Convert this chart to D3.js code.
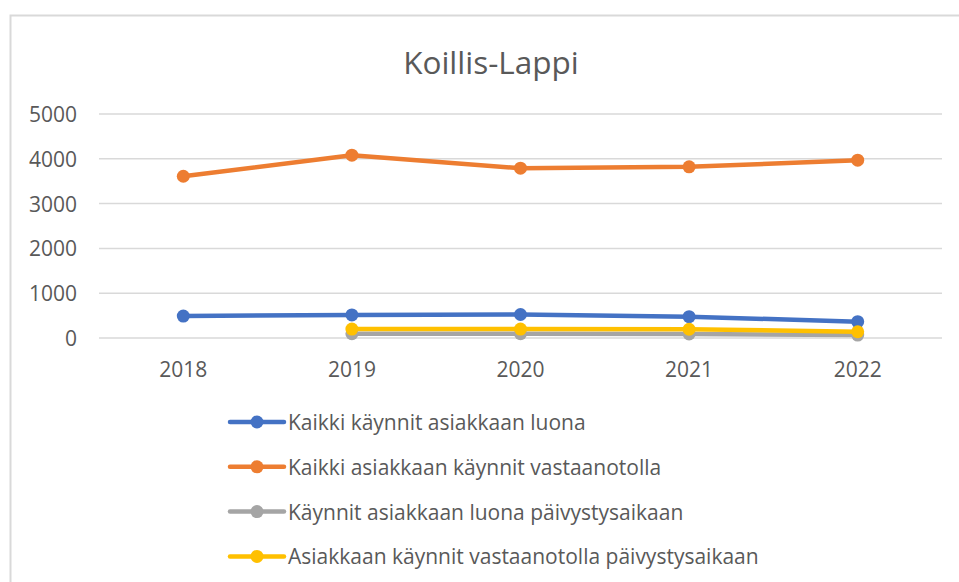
<!DOCTYPE html>
<html lang="fi">
<head>
    <meta charset="UTF-8">
    <title>Koillis-Lappi</title>
    <script src="https://d3js.org/d3.v7.min.js"></script>
    <style>
        body {
            margin: 0;
            background: #fff;
            font-family: 'Open Sans', sans-serif;
        }
        .tick-label {
            fill: #595959;
            font-size: 21px;
        }
        .legend-text {
            fill: #595959;
            font-size: 21px;
        }
    </style>
</head>
<body>
    <div id="chart"></div>

    <script>
        // data
        const years = ["2018", "2019", "2020", "2021", "2022"];
        const yTicks = [0, 1000, 2000, 3000, 4000, 5000];
        const seriesNames = [
            "Kaikki käynnit asiakkaan luona",
            "Kaikki asiakkaan käynnit vastaanotolla",
            "Käynnit asiakkaan luona päivystysaikaan",
            "Asiakkaan käynnit vastaanotolla päivystysaikaan"
        ];
        const seriesColors = ["#4472c4", "#ed7d31", "#a5a5a5", "#ffc000"];
        const kotiKaynnit = [490, 515, 525, 475, 365];
        const vastaanotto = [3610, 4080, 3790, 3820, 3970];
        const kotiPaivystys = [null, 95, 95, 90, 65];
        const vastaanottoPaivystys = [null, 200, 200, 195, 140];
        const seriesValues = [kotiKaynnit, vastaanotto, kotiPaivystys, vastaanottoPaivystys];

        const width = 959, height = 582;

        const svg = d3.select("#chart").append("svg")
            .attr("width", width)
            .attr("height", height);

        // chart frame
        svg.append("rect")
            .attr("x", 10.5).attr("y", 15.5)
            .attr("width", 960).attr("height", 600)
            .attr("fill", "#fff")
            .attr("stroke", "#d9d9d9")
            .attr("stroke-width", 2);

        svg.append("text")
            .attr("x", 491).attr("y", 61)
            .attr("text-anchor", "middle")
            .attr("dominant-baseline", "central")
            .attr("fill", "#595959")
            .style("font-size", "31.5px")
            .text("Koillis-Lappi");

        const x = d3.scaleBand().domain(years).range([99, 942]);
        const y = d3.scaleLinear().domain([0, 5000]).range([338, 114]);

        // gridlines
        svg.append("g").selectAll("line")
            .data(yTicks)
            .join("line")
            .attr("x1", 99).attr("x2", 942)
            .attr("y1", d => y(d)).attr("y2", d => y(d))
            .attr("stroke", "#d9d9d9")
            .attr("stroke-width", 1.5);

        svg.append("g").selectAll("text")
            .data(yTicks)
            .join("text")
            .attr("class", "tick-label")
            .attr("x", 77)
            .attr("y", d => y(d))
            .attr("text-anchor", "end")
            .attr("dominant-baseline", "central")
            .text(d => d);

        svg.append("g").selectAll("text")
            .data(years)
            .join("text")
            .attr("class", "tick-label")
            .attr("x", d => x(d) + x.bandwidth() / 2)
            .attr("y", 369)
            .attr("text-anchor", "middle")
            .attr("dominant-baseline", "central")
            .text(d => d);

        // lines
        const line = d3.line()
            .defined(d => d.v != null)
            .x(d => x(d.year) + x.bandwidth() / 2)
            .y(d => y(d.v));

        seriesValues.forEach((vals, i) => {
            const pts = years.map((yr, j) => ({ year: yr, v: vals[j] }));
            const g = svg.append("g");
            g.append("path")
                .datum(pts)
                .attr("d", line)
                .attr("fill", "none")
                .attr("stroke", seriesColors[i])
                .attr("stroke-width", 4.5)
                .attr("stroke-linejoin", "round")
                .attr("stroke-linecap", "round");
            g.selectAll("circle")
                .data(pts.filter(d => d.v != null))
                .join("circle")
                .attr("cx", d => x(d.year) + x.bandwidth() / 2)
                .attr("cy", d => y(d.v))
                .attr("r", 6.5)
                .attr("fill", seriesColors[i]);
        });

        // legend
        const legend = svg.append("g").selectAll("g")
            .data(seriesNames)
            .join("g")
            .attr("transform", (d, i) => `translate(0, ${422 + i * 44.8})`);

        legend.append("line")
            .attr("x1", 230).attr("x2", 284)
            .attr("stroke", (d, i) => seriesColors[i])
            .attr("stroke-width", 4.5)
            .attr("stroke-linecap", "round");
        legend.append("circle")
            .attr("cx", 257)
            .attr("r", 6.5)
            .attr("fill", (d, i) => seriesColors[i]);
        legend.append("text")
            .attr("class", "legend-text")
            .attr("x", 288)
            .attr("dominant-baseline", "central")
            .text(d => d);
    </script>
</body>
</html>
